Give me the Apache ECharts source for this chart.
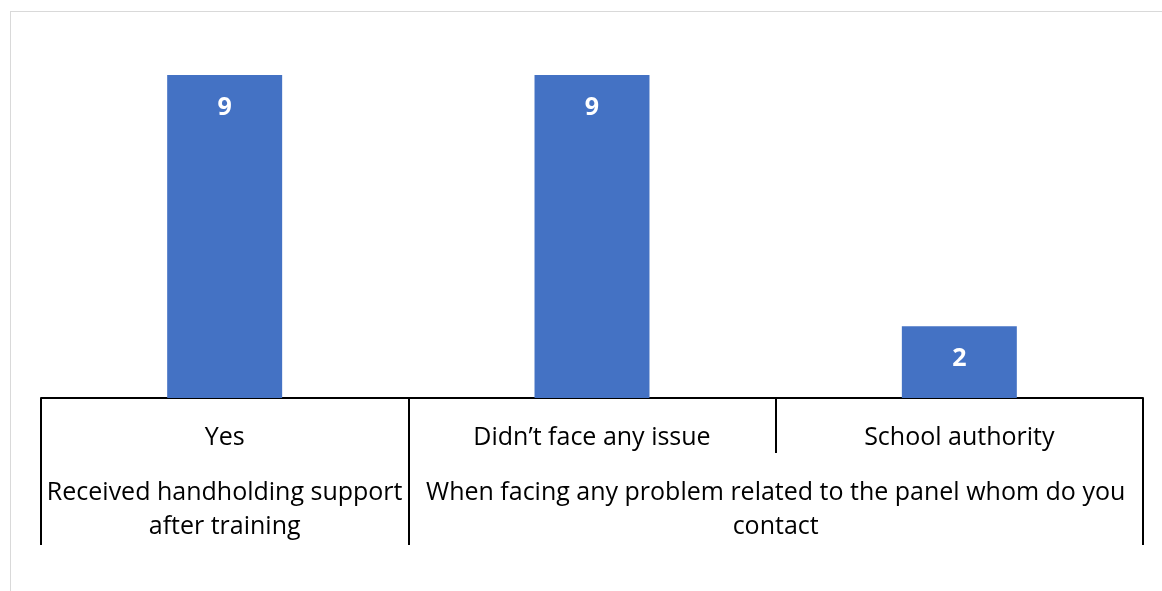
<!DOCTYPE html>
<html>
<head>
<meta charset="utf-8">
<script src="https://cdn.jsdelivr.net/npm/echarts@6/dist/echarts.min.js"></script>
<style>
  html, body { margin: 0; padding: 0; background: #fff; }
  #frame { position: absolute; left: 10px; top: 11px; width: 1200px; height: 640px;
           border-left: 1.5px solid #d9d9d9; border-top: 1.5px solid #d9d9d9; }
  #chart { position: absolute; left: 0; top: 0; width: 1162px; height: 591px; }
</style>
</head>
<body>
<div id="frame"></div>
<div id="chart"></div>
<script>
const categories = ["Yes", "Didn\u2019t face any issue", "School authority"];
const values = [9, 9, 2];
const groupNames = ["Received handholding support\nafter training",
                    "When facing any problem related to the panel whom do you\ncontact"];
const groupSpans = [1, 2];

const bounds = [0];
groupSpans.forEach(s => bounds.push(bounds[bounds.length - 1] + s));
const centers = groupSpans.map((s, i) => bounds[i] + s / 2);

const FONT = "Open Sans";
const chart = echarts.init(document.getElementById('chart'), null, { renderer: 'canvas' });
chart.setOption({
  animation: false,
  backgroundColor: 'transparent',
  grid: { left: 41, right: 19, top: 39, bottom: 193, containLabel: false },
  xAxis: [
    {
      type: 'category',
      data: categories,
      position: 'bottom',
      boundaryGap: true,
      axisLine: { show: true, lineStyle: { color: '#000', width: 2 } },
      axisTick: { show: true, interval: 0, length: 55, lineStyle: { color: '#000', width: 2 } },
      axisLabel: { interval: 0, margin: 25, color: '#000', fontFamily: FONT, fontSize: 25, lineHeight: 30 },
      splitLine: { show: false }
    },
    {
      type: 'value',
      min: 0,
      max: bounds[bounds.length - 1],
      position: 'bottom',
      axisLine: { show: false },
      axisTick: { show: true, customValues: bounds, length: 147, lineStyle: { color: '#000', width: 2 } },
      axisLabel: {
        customValues: centers,
        margin: 78,
        color: '#000', fontFamily: FONT, fontSize: 25, lineHeight: 34,
        formatter: v => { const i = centers.indexOf(v); return i >= 0 ? groupNames[i] : ''; }
      },
      splitLine: { show: false }
    }
  ],
  yAxis: { type: 'value', min: 0, max: 10, show: false },
  series: [{
    type: 'bar',
    xAxisIndex: 0,
    data: values,
    barWidth: '31.3%',
    itemStyle: { color: '#4472c4' },
    label: { show: true, position: 'insideTop', distance: 20, color: '#fff',
             fontFamily: FONT, fontWeight: 'bold', fontSize: 25, lineHeight: 26 }
  }]
});
</script>
</body>
</html>
